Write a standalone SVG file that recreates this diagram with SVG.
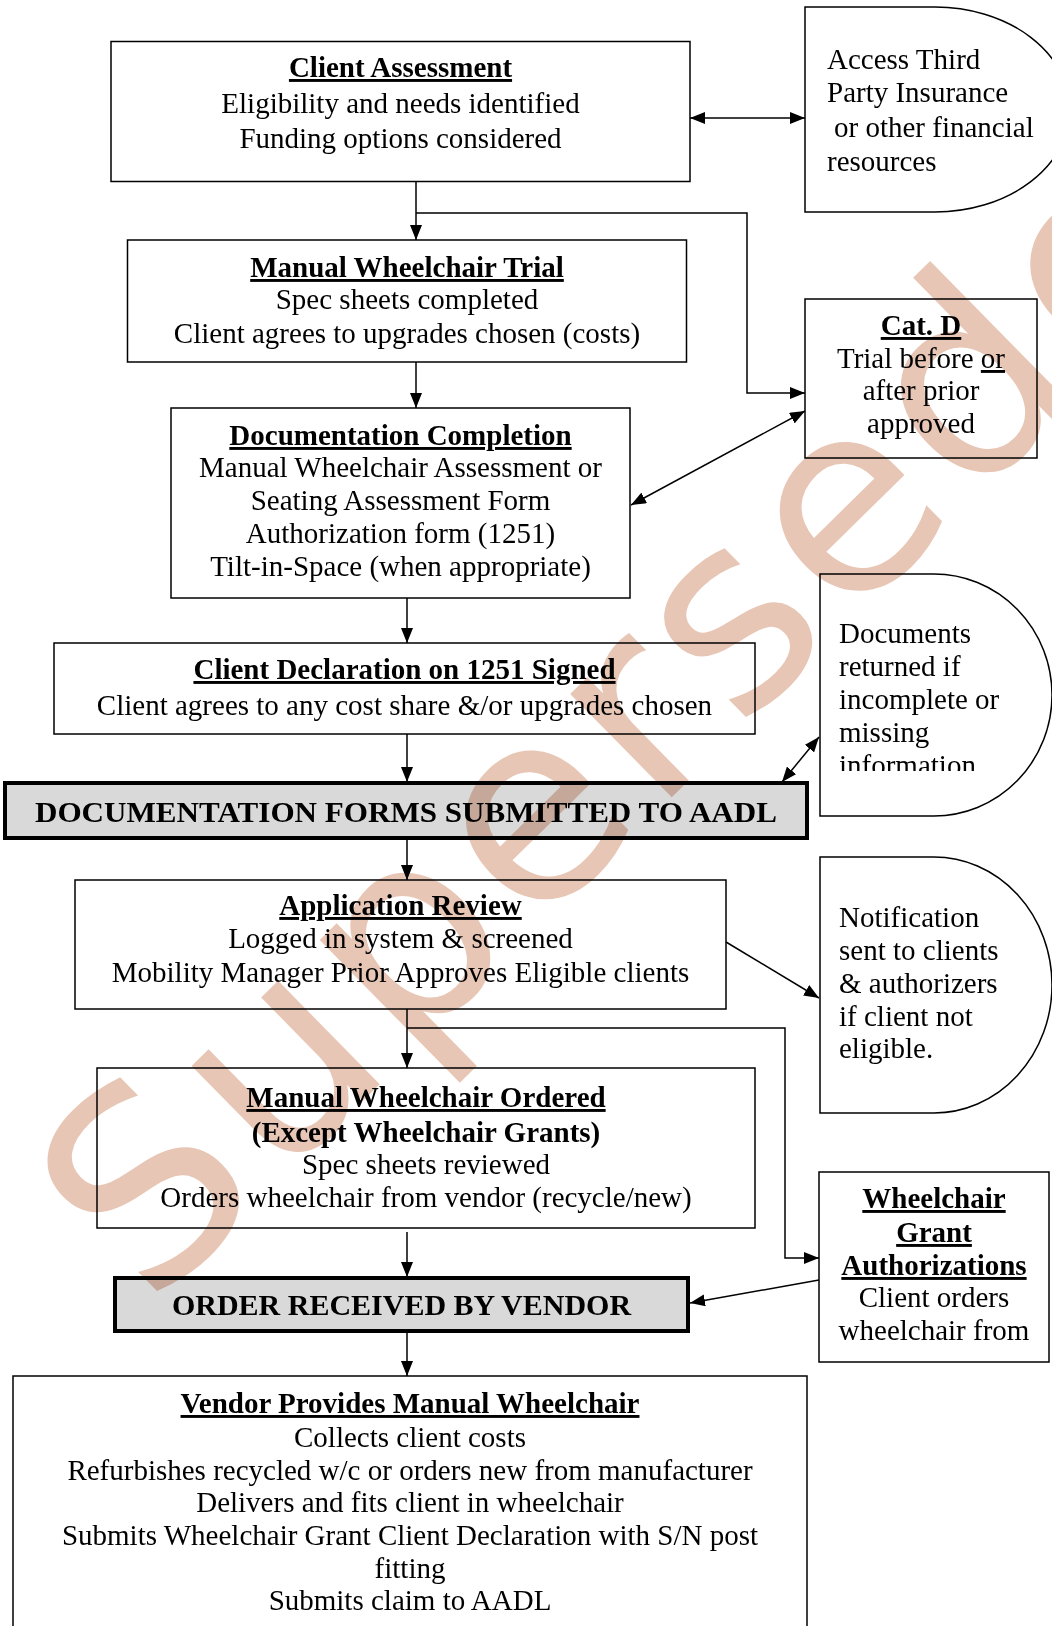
<svg xmlns="http://www.w3.org/2000/svg" width="1052" height="1626" viewBox="0 0 1052 1626">
<defs>
<style>
.box{fill:#fff;stroke:#000;stroke-width:1.5}
.thick{fill:#d9d9d9;stroke:#000;stroke-width:4}
.t{font-family:"Liberation Serif","Times New Roman",serif;font-size:29px;fill:#000}
.c{text-anchor:middle}
.b{font-weight:bold}
.u{text-decoration:underline}
.cap{font-size:30px;font-weight:bold}
.conn line,.conn path{stroke:#000;stroke-width:1.5;fill:none}
.wm{font-family:"DejaVu Sans","Liberation Sans",sans-serif;font-size:265px;letter-spacing:10px;fill:#e8c6b5;mix-blend-mode:multiply}
</style>
<marker id="ah" viewBox="0 0 15 12" refX="15" refY="6" markerWidth="15" markerHeight="12" markerUnits="userSpaceOnUse" orient="auto-start-reverse">
<path d="M0,0 L15,6 L0,12 z" fill="#000"/>
</marker>
<clipPath id="docclip"><rect x="820" y="574" width="232" height="197"/></clipPath>
</defs>
<rect width="1052" height="1626" fill="#fff"/>

<g id="client-assessment">
<rect class="box" x="111" y="41.5" width="579" height="140"/>
<text class="t c"><tspan x="400.5" y="77" class="b u">Client Assessment</tspan><tspan x="400.5" y="113">Eligibility and needs identified</tspan><tspan x="400.5" y="148">Funding options considered</tspan></text>
</g>

<g id="access-third-party">
<path class="box" d="M805,7 H935 A135,102.5 0 0 1 935,212 H805 Z"/>
<text class="t"><tspan x="827" y="69">Access Third</tspan><tspan x="827" y="102">Party Insurance</tspan><tspan x="834" y="137">or other financial</tspan><tspan x="827" y="171">resources</tspan></text>
</g>

<g id="manual-wheelchair-trial">
<rect class="box" x="127.5" y="240" width="559" height="122"/>
<text class="t c"><tspan x="407" y="277" class="b u">Manual Wheelchair Trial</tspan><tspan x="407" y="309">Spec sheets completed</tspan><tspan x="407" y="343">Client agrees to upgrades chosen (costs)</tspan></text>
</g>

<g id="cat-d">
<rect class="box" x="805" y="299" width="232" height="159"/>
<text class="t c"><tspan x="921" y="335" class="b u">Cat. D</tspan><tspan x="921" y="368">Trial before <tspan class="u">or</tspan></tspan><tspan x="921" y="400">after prior</tspan><tspan x="921" y="433">approved</tspan></text>
</g>

<g id="documentation-completion">
<rect class="box" x="171" y="408" width="459" height="190"/>
<text class="t c"><tspan x="400.5" y="445" class="b u">Documentation Completion</tspan><tspan x="400.5" y="477">Manual Wheelchair Assessment or</tspan><tspan x="400.5" y="510">Seating Assessment Form</tspan><tspan x="400.5" y="543">Authorization form (1251)</tspan><tspan x="400.5" y="576">Tilt-in-Space (when appropriate)</tspan></text>
</g>

<g id="client-declaration">
<rect class="box" x="54" y="643" width="701" height="91"/>
<text class="t c"><tspan x="404.5" y="679" class="b u">Client Declaration on 1251 Signed</tspan><tspan x="404.5" y="715">Client agrees to any cost share &amp;/or upgrades chosen</tspan></text>
</g>

<g id="documents-returned">
<path class="box" d="M820,574 H934 A118,121 0 0 1 934,816 H820 Z"/>
<text class="t" clip-path="url(#docclip)"><tspan x="839" y="643">Documents</tspan><tspan x="839" y="676">returned if</tspan><tspan x="839" y="709">incomplete or</tspan><tspan x="839" y="742">missing</tspan><tspan x="839" y="775">information</tspan></text>
</g>

<g id="documentation-forms-submitted">
<rect class="thick" x="5" y="783" width="802" height="55"/>
<text class="t c cap" x="406" y="822" font-size="31" textLength="742" lengthAdjust="spacingAndGlyphs">DOCUMENTATION FORMS SUBMITTED TO AADL</text>
</g>

<g id="application-review">
<rect class="box" x="75" y="880" width="651" height="129"/>
<text class="t c"><tspan x="400.5" y="915" class="b u">Application Review</tspan><tspan x="400.5" y="948">Logged in system &amp; screened</tspan><tspan x="400.5" y="982">Mobility Manager Prior Approves Eligible clients</tspan></text>
</g>

<g id="notification">
<path class="box" d="M820,857 H934 A118,128 0 0 1 934,1113 H820 Z"/>
<text class="t"><tspan x="839" y="927">Notification</tspan><tspan x="839" y="960">sent to clients</tspan><tspan x="839" y="993">&amp; authorizers</tspan><tspan x="839" y="1026">if client not</tspan><tspan x="839" y="1058">eligible.</tspan></text>
</g>

<g id="manual-wheelchair-ordered">
<rect class="box" x="97" y="1068" width="658" height="160"/>
<text class="t c"><tspan x="426" y="1107" class="b u">Manual Wheelchair Ordered</tspan><tspan x="426" y="1142" class="b">(Except Wheelchair Grants)</tspan><tspan x="426" y="1174">Spec sheets reviewed</tspan><tspan x="426" y="1207">Orders wheelchair from vendor (recycle/new)</tspan></text>
</g>

<g id="wheelchair-grant-authorizations">
<rect class="box" x="819" y="1172" width="230" height="190"/>
<text class="t c"><tspan x="934" y="1208" class="b u">Wheelchair</tspan><tspan x="934" y="1242" class="b u">Grant</tspan><tspan x="934" y="1275" class="b u">Authorizations</tspan><tspan x="934" y="1307">Client orders</tspan><tspan x="934" y="1340">wheelchair from</tspan></text>
</g>

<g id="order-received">
<rect class="thick" x="115" y="1278" width="573" height="53"/>
<text class="t c cap" x="401.5" y="1315">ORDER RECEIVED BY VENDOR</text>
</g>

<g id="vendor-provides">
<rect class="box" x="13" y="1376" width="794" height="270"/>
<text class="t c"><tspan x="410" y="1413" class="b u">Vendor Provides Manual Wheelchair</tspan><tspan x="410" y="1447">Collects client costs</tspan><tspan x="410" y="1480">Refurbishes recycled w/c or orders new from manufacturer</tspan><tspan x="410" y="1512">Delivers and fits client in wheelchair</tspan><tspan x="410" y="1545">Submits Wheelchair Grant Client Declaration with S/N post</tspan><tspan x="410" y="1578">fitting</tspan><tspan x="410" y="1610">Submits claim to AADL</tspan></text>
</g>

<g id="connectors" class="conn">
<line x1="690" y1="118" x2="805" y2="118" marker-start="url(#ah)" marker-end="url(#ah)"/>
<line x1="416" y1="182" x2="416" y2="240" marker-end="url(#ah)"/>
<path d="M416,213 H747 V393 H805" marker-end="url(#ah)"/>
<line x1="416" y1="362" x2="416" y2="408" marker-end="url(#ah)"/>
<line x1="631" y1="505" x2="805" y2="411" marker-start="url(#ah)" marker-end="url(#ah)"/>
<line x1="407" y1="598" x2="407" y2="643" marker-end="url(#ah)"/>
<line x1="407" y1="734" x2="407" y2="782" marker-end="url(#ah)"/>
<line x1="782" y1="782" x2="819" y2="737" marker-start="url(#ah)" marker-end="url(#ah)"/>
<line x1="407" y1="840" x2="407" y2="880" marker-end="url(#ah)"/>
<line x1="726" y1="942" x2="819" y2="998" marker-end="url(#ah)"/>
<line x1="407" y1="1009" x2="407" y2="1068" marker-end="url(#ah)"/>
<path d="M407,1028 H785 V1258 H819" marker-end="url(#ah)"/>
<line x1="407" y1="1232" x2="407" y2="1277" marker-end="url(#ah)"/>
<line x1="819" y1="1280" x2="690" y2="1303" marker-end="url(#ah)"/>
<line x1="407" y1="1333" x2="407" y2="1376" marker-end="url(#ah)"/>
</g>

<g id="watermark">
<text class="wm" x="150" y="1310" transform="rotate(-44.5 150 1310)">Superseded</text>
</g>
</svg>
